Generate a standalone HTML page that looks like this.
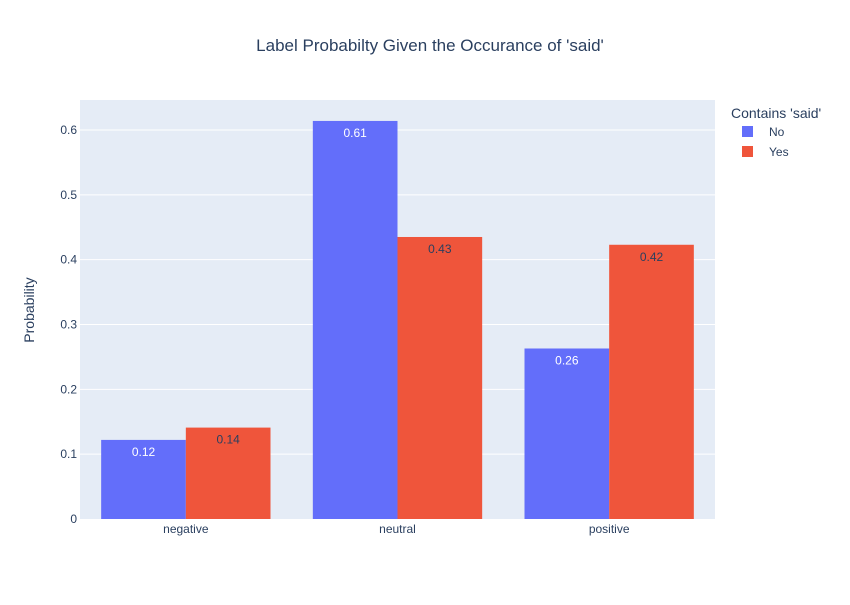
<!DOCTYPE html>
<html><head><meta charset="utf-8"><style>
body{margin:0;background:#fff;font-family:"Liberation Sans",Arial,sans-serif;}
svg text{font-family:"Liberation Sans",Arial,sans-serif;}
</style></head><body>
<svg id="chart" width="850" height="600" xmlns="http://www.w3.org/2000/svg">
<rect x="0" y="0" width="850" height="600" fill="#fff"/>
<rect x="80" y="100" width="635" height="419" fill="#e5ecf6"/>
<g id="grid"></g>
<g id="bars"></g>
<g id="labels"></g>
<text x="430" y="51" text-anchor="middle" font-size="17" fill="#2a3f5f">Label Probabilty Given the Occurance of 'said'</text>
<text transform="translate(34,310) rotate(-90)" text-anchor="middle" font-size="14" fill="#2a3f5f">Probability</text>
<text x="731" y="118" font-size="14" fill="#2a3f5f">Contains 'said'</text>
<g>
<rect x="742" y="126" width="11" height="11" fill="#636efa"/>
<text x="769" y="136" font-size="12" fill="#2a3f5f">No</text></g>
<g>
<rect x="742" y="146" width="11" height="11" fill="#ef553b"/>
<text x="769" y="156" font-size="12" fill="#2a3f5f">Yes</text></g>
</svg>
<script>
const categories=["negative","neutral","positive"];
const seriesNo=[0.122,0.614,0.263];
const seriesYes=[0.141,0.435,0.423];
const yTicks=[0,0.1,0.2,0.3,0.4,0.5,0.6];
const yTickLabels=["0","0.1","0.2","0.3","0.4","0.5","0.6"];
const NS="http://www.w3.org/2000/svg";
const X0=80,X1=715,Y0=519,YMAX=0.6463;
function ys(v){return Y0-v/YMAX*(Y0-100);}
const band=(X1-X0)/categories.length;
function xs(i){return X0+band*i;}
function mk(tag,attrs,parent){const e=document.createElementNS(NS,tag);for(const k in attrs)e.setAttribute(k,attrs[k]);document.getElementById(parent).appendChild(e);return e;}
yTicks.forEach((t,i)=>{
  if(t>0){const l=mk('line',{x1:X0,x2:X1,y1:ys(t),y2:ys(t),stroke:'#fff','stroke-width':1},'grid');
  
  }
  const tx=mk('text',{x:X0-3,y:ys(t)+4,'text-anchor':'end','font-size':12,fill:'#2a3f5f'},'labels');
  tx.textContent=yTickLabels[i];
  
  
});
const series=[{v:seriesNo,c:'#636efa',tc:'#fff',n:'no'},{v:seriesYes,c:'#ef553b',tc:'#2a3f5f',n:'yes'}];
const gw=band*0.8,bw=gw/2;
categories.forEach((cat,i)=>{
  series.forEach((s,j)=>{
    const x=xs(i)+band*0.1+j*bw,y=ys(s.v[i]);
    const r=mk('rect',{x:x,y:y,width:bw,height:Y0-y,fill:s.c},'bars');
    
    
    const t=mk('text',{x:x+bw/2,y:y+16,'text-anchor':'middle','font-size':12,fill:s.tc},'labels');
    t.textContent=s.v[i].toFixed(2);
    
    
  });
  const t=mk('text',{x:xs(i)+band/2,y:Y0+14,'text-anchor':'middle','font-size':12,fill:'#2a3f5f'},'labels');
  t.textContent=cat;
  
  
});
</script>
</body></html>
